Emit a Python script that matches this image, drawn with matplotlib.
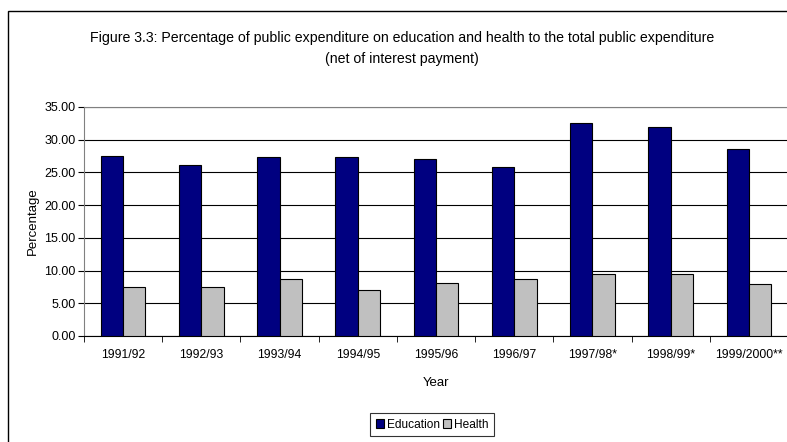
import numpy as np
import matplotlib
matplotlib.use('Agg')
import matplotlib.pyplot as plt
from matplotlib.patches import Rectangle

# data
years = ['1991/92', '1992/93', '1993/94', '1994/95', '1995/96',
         '1996/97', '1997/98*', '1998/99*', '1999/2000**']
education = [27.5, 26.2, 27.4, 27.4, 27.0, 25.9, 32.5, 31.9, 28.6]
health = [7.5, 7.5, 8.7, 7.1, 8.1, 8.7, 9.5, 9.5, 7.9]

plt.rcParams['font.family'] = ['Liberation Sans', 'DejaVu Sans']

fig = plt.figure(figsize=(7.87, 4.42), dpi=100)
ax = fig.add_axes([84/787, 106/442, 704/787, 229/442])

x = np.arange(len(years))
w = 1/3.5
ax.bar(x - w/2, education, w, color='#000080', edgecolor='black', linewidth=0.8,
       label='Education', zorder=3)
ax.bar(x + w/2, health, w, color='#C0C0C0', edgecolor='black', linewidth=0.8,
       label='Health', zorder=3)

ax.set_xlim(-0.5, len(years) - 0.5)
ax.set_ylim(0, 35)
ax.set_yticks(np.arange(0, 35.01, 5))
ax.set_yticklabels(['%.2f' % v for v in np.arange(0, 35.01, 5)], fontsize=9)
ax.yaxis.grid(True, color='black', linewidth=0.8, zorder=0)
ax.set_axisbelow(True)

# category labels in the middle, tick marks between categories
ax.set_xticks(x)
ax.set_xticklabels(years, fontsize=8.8)
ax.tick_params(axis='x', which='major', length=0, pad=9)
ax.set_xticks(np.arange(-0.5, len(years), 1), minor=True)
ax.tick_params(axis='x', which='minor', length=4, color='black')
ax.tick_params(axis='y', length=4, color='black', pad=2)

ax.spines['right'].set_visible(False)
ax.spines['top'].set_color('#808080')
ax.spines['left'].set_color('#808080')
ax.spines['bottom'].set_color('black')

ax.set_xlabel('Year', fontsize=9.5, labelpad=12)
ax.set_ylabel('Percentage', fontsize=9.5, labelpad=4)

fig.text(0.511, 0.913, 'Figure 3.3: Percentage of public expenditure on education and health to the total public expenditure',
         ha='center', va='center', fontsize=10.2)
fig.text(0.511, 0.867, '(net of interest payment)', ha='center', va='center', fontsize=10.2)

leg = fig.legend(loc='center', bbox_to_anchor=(0.549, 0.039), ncol=2, fontsize=8.6,
                 frameon=True, fancybox=False, handlelength=0.7, handleheight=0.7,
                 handletextpad=0.2, columnspacing=0.3, borderpad=0.45)
leg.get_frame().set_edgecolor('black')
leg.get_frame().set_linewidth(0.8)

# outer chart border
fig.patches.append(Rectangle((8/787, -0.1), 1.2, (442 - 11)/442 + 0.1,
                             transform=fig.transFigure, fill=False,
                             edgecolor='black', linewidth=1))

fig.savefig('out.png', dpi=100)
